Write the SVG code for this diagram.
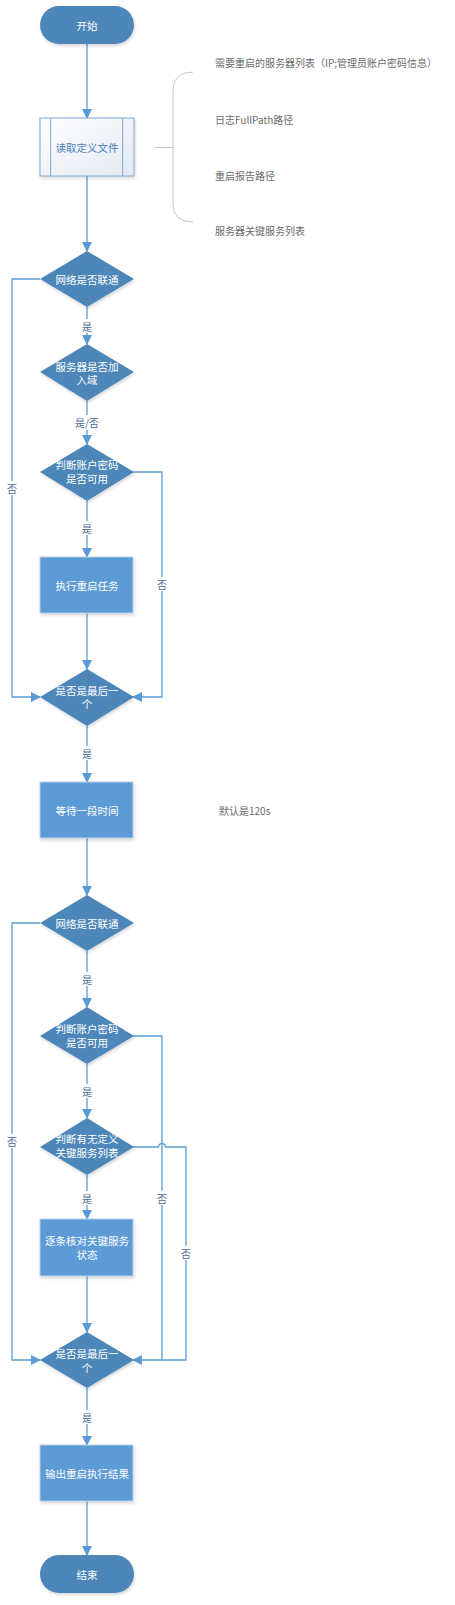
<svg xmlns="http://www.w3.org/2000/svg" width="455" height="1605" viewBox="0 0 455 1605">
<style>
text{font-family:"Microsoft YaHei","Noto Sans CJK SC","Noto Sans",sans-serif;font-size:10.5px;text-anchor:middle;dominant-baseline:central}
.term,.dec{fill:#4d86b9;filter:url(#sh)}
.proc{fill:#5b9bd5;stroke:#b8cfe6;stroke-width:1;filter:url(#sh)}
.wt{fill:#ffffff}
.lbl{fill:#4a6a94;font-size:10px}
.note{fill:#6b6b6b;font-size:10px;text-anchor:start}
.con{fill:none;stroke:#5b9bd5;stroke-width:1.3}
.lb{fill:#ffffff}
</style>
<defs>
<marker id="ar" markerWidth="10" markerHeight="10" refX="9" refY="5" orient="auto" markerUnits="userSpaceOnUse">
<path d="M0,0 L10,5 L0,10 Z" fill="#5b9bd5"/>
</marker>
<linearGradient id="g1" x1="0" y1="0" x2="1" y2="1">
<stop offset="0" stop-color="#ffffff"/>
<stop offset="1" stop-color="#e3e8f1"/>
</linearGradient>
<filter id="sh" x="-20%" y="-20%" width="140%" height="150%">
<feDropShadow dx="1" dy="2" stdDeviation="1.5" flood-color="#000" flood-opacity="0.15"/>
</filter>
</defs>

<g id="connectors">
<path class="con" d="M87,44 V118" marker-end="url(#ar)"/>
<path class="con" d="M87,176 V251" marker-end="url(#ar)"/>
<path class="con" d="M87,307 V344" marker-end="url(#ar)"/>
<path class="con" d="M87,401 V444" marker-end="url(#ar)"/>
<path class="con" d="M87,501 V557" marker-end="url(#ar)"/>
<path class="con" d="M87,613 V669" marker-end="url(#ar)"/>
<path class="con" d="M40,279 H12 V697 H40" marker-end="url(#ar)"/>
<path class="con" d="M133,472 H162 V697 H133" marker-end="url(#ar)"/>
<path class="con" d="M87,726 V782" marker-end="url(#ar)"/>
<path class="con" d="M87,838 V895" marker-end="url(#ar)"/>
<path class="con" d="M87,951 V1007" marker-end="url(#ar)"/>
<path class="con" d="M87,1064 V1118" marker-end="url(#ar)"/>
<path class="con" d="M87,1175 V1219" marker-end="url(#ar)"/>
<path class="con" d="M87,1276 V1332" marker-end="url(#ar)"/>
<path class="con" d="M87,1388 V1445" marker-end="url(#ar)"/>
<path class="con" d="M87,1501 V1555" marker-end="url(#ar)"/>
<path class="con" d="M40,923 H12 V1360 H40" marker-end="url(#ar)"/>
<path class="con" d="M133,1036 H162 V1360 H133" marker-end="url(#ar)"/>
<path class="con" d="M133,1147 H158.5 A3.5,3.5 0 0 1 165.5,1147 H186 V1360 H162"/>
<path d="M154,147.5 H173" fill="none" stroke="#c8c8c8" stroke-width="1"/>
<path d="M193,72 Q173,72 173,90 V204 Q173,222 193,222" fill="none" stroke="#c8c8c8" stroke-width="1"/>
<rect class="lb" x="80" y="319" width="14" height="14"/>
<text class="lbl" x="87" y="326">是</text>
<rect class="lb" x="74" y="415" width="26" height="15"/>
<text class="lbl" x="87" y="422.5">是/否</text>
<rect class="lb" x="80" y="521" width="14" height="14"/>
<text class="lbl" x="87" y="528">是</text>
<rect class="lb" x="5" y="481" width="14" height="14"/>
<text class="lbl" x="12" y="488">否</text>
<rect class="lb" x="155" y="577" width="14" height="14"/>
<text class="lbl" x="162" y="584">否</text>
<rect class="lb" x="80" y="746" width="14" height="14"/>
<text class="lbl" x="87" y="753">是</text>
<rect class="lb" x="80" y="972" width="14" height="14"/>
<text class="lbl" x="87" y="979">是</text>
<rect class="lb" x="80" y="1084" width="14" height="14"/>
<text class="lbl" x="87" y="1091">是</text>
<rect class="lb" x="5" y="1134" width="14" height="14"/>
<text class="lbl" x="12" y="1141">否</text>
<rect class="lb" x="155" y="1191" width="14" height="14"/>
<text class="lbl" x="162" y="1198">否</text>
<rect class="lb" x="179" y="1246" width="14" height="14"/>
<text class="lbl" x="186" y="1253">否</text>
<rect class="lb" x="80" y="1191" width="14" height="14"/>
<text class="lbl" x="87" y="1198">是</text>
<rect class="lb" x="80" y="1410" width="14" height="14"/>
<text class="lbl" x="87" y="1417">是</text>
</g>

<g id="n-start">
<rect class="term" x="40" y="6" width="94" height="38" rx="19"/>
<text class="wt" x="87" y="25">开始</text>
</g>
<g id="n-read">
<rect x="40" y="118" width="94" height="58" fill="url(#g1)" stroke="#7ea6d3" stroke-width="1" filter="url(#sh)"/>
<path d="M50.7,118 V176 M122.7,118 V176" stroke="#7ea6d3" stroke-width="1"/>
<text x="87" y="147" fill="#4a7ebb">读取定义文件</text>
</g>
<g id="n-notes">
<text class="note" x="215" y="62">需要重启的服务器列表（IP;管理员账户密码信息）</text>
<text class="note" x="215" y="119">日志FullPath路径</text>
<text class="note" x="215" y="175">重启报告路径</text>
<text class="note" x="215" y="230">服务器关键服务列表</text>
</g>
<g id="n-net1">
<polygon class="dec" points="87,251 134,279 87,307 40,279"/>
<text class="wt" x="87" y="279">网络是否联通</text>
</g>
<g id="n-domain">
<polygon class="dec" points="87,344 134,372 87,401 40,372"/>
<text class="wt" x="87" y="366">服务器是否加</text>
<text class="wt" x="87" y="379.5">入域</text>
</g>
<g id="n-acct1">
<polygon class="dec" points="87,444 134,472 87,501 40,472"/>
<text class="wt" x="87" y="464.5">判断账户密码</text>
<text class="wt" x="87" y="478">是否可用</text>
</g>
<g id="n-restart">
<rect class="proc" x="40" y="557" width="93" height="56"/>
<text class="wt" x="87" y="585">执行重启任务</text>
</g>
<g id="n-last1">
<polygon class="dec" points="87,669 134,697 87,726 40,697"/>
<text class="wt" x="87" y="690">是否是最后一</text>
<text class="wt" x="87" y="703.5">个</text>
</g>
<g id="n-wait">
<rect class="proc" x="40" y="782" width="93" height="56"/>
<text class="wt" x="87" y="810">等待一段时间</text>
</g>
<g id="n-note2">
<text class="note" x="219" y="810">默认是120s</text>
</g>
<g id="n-net2">
<polygon class="dec" points="87,895 134,923 87,951 40,923"/>
<text class="wt" x="87" y="923">网络是否联通</text>
</g>
<g id="n-acct2">
<polygon class="dec" points="87,1007 134,1036 87,1064 40,1036"/>
<text class="wt" x="87" y="1028.5">判断账户密码</text>
<text class="wt" x="87" y="1042">是否可用</text>
</g>
<g id="n-svc">
<polygon class="dec" points="87,1118 134,1147 87,1175 40,1147"/>
<text class="wt" x="87" y="1138.5">判断有无定义</text>
<text class="wt" x="87" y="1152">关键服务列表</text>
</g>
<g id="n-check">
<rect class="proc" x="40" y="1219" width="93" height="57"/>
<text class="wt" x="87" y="1240.5">逐条核对关键服务</text>
<text class="wt" x="87" y="1254">状态</text>
</g>
<g id="n-last2">
<polygon class="dec" points="87,1332 134,1360 87,1388 40,1360"/>
<text class="wt" x="87" y="1353.5">是否是最后一</text>
<text class="wt" x="87" y="1367">个</text>
</g>
<g id="n-output">
<rect class="proc" x="40" y="1445" width="93" height="56"/>
<text class="wt" x="87" y="1473">输出重启执行结果</text>
</g>
<g id="n-end">
<rect class="term" x="40" y="1555" width="94" height="38" rx="19"/>
<text class="wt" x="87" y="1574">结束</text>
</g>
</svg>
